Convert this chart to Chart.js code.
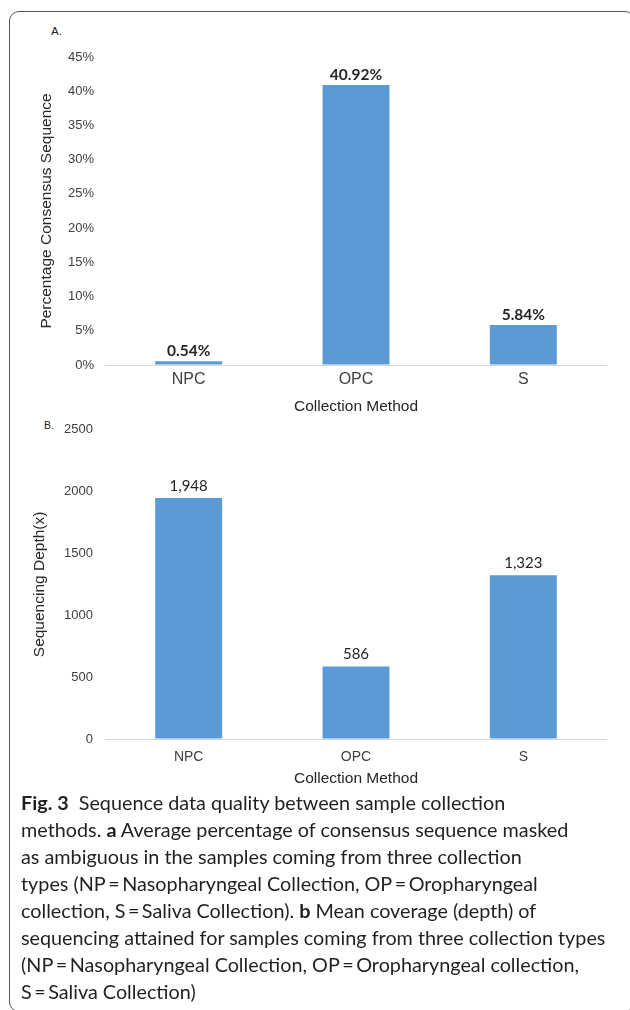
<!DOCTYPE html>
<html>
<head>
<meta charset="utf-8">
<script src="https://cdn.jsdelivr.net/npm/chart.js@4.4.1/dist/chart.umd.min.js"></script>
<style>
  html, body { margin: 0; padding: 0; background: #fff; width: 630px; height: 1010px; overflow: hidden; }
  body { position: relative; font-family: "Liberation Sans", Arial, sans-serif; }
  .frame { position: absolute; left: 9px; top: 11px; width: 626px; height: 1001px; border: 1.4px solid #555; border-radius: 10px; box-sizing: border-box; }
  .panel { position: absolute; left: 0; width: 630px; }
  #panelA { top: 0; height: 420px; }
  #panelB { top: 410px; height: 380px; }
  .tag { position: absolute; color: #222; font-family: "Liberation Sans", Arial, sans-serif; }
  #tagA { left: 51px; top: 25px; font-size: 11.5px; }
  #tagB { left: 44px; top: 419px; font-size: 10.5px; }
  .caption { position: absolute; left: 21px; top: 789px; font-family: Lato, "Open Sans", sans-serif; font-size: 19.8px; line-height: 27px; color: #231f20; white-space: nowrap; }
  .caption b { font-weight: 700; }
</style>
</head>
<body>
<div class="frame"></div>
<div class="tag" id="tagA">A.</div>
<div class="tag" id="tagB">B.</div>
<div class="panel" id="panelA"><canvas id="chartA" width="630" height="420"></canvas></div>
<div class="panel" id="panelB"><canvas id="chartB" width="630" height="380"></canvas></div>
<div class="caption">
  <div><b>Fig. 3</b>&nbsp; Sequence data quality between sample collection</div>
  <div>methods. <b>a</b> Average percentage of consensus sequence masked</div>
  <div>as ambiguous in the samples coming from three collection</div>
  <div>types (NP&thinsp;=&thinsp;Nasopharyngeal Collection, OP&thinsp;=&thinsp;Oropharyngeal</div>
  <div>collection, S&thinsp;=&thinsp;Saliva Collection). <b>b</b> Mean coverage (depth) of</div>
  <div>sequencing attained for samples coming from three collection types</div>
  <div>(NP&thinsp;=&thinsp;Nasopharyngeal Collection, OP&thinsp;=&thinsp;Oropharyngeal collection,</div>
  <div>S&thinsp;=&thinsp;Saliva Collection)</div>
</div>
<script>
// Collection methods shared by both panels
const methods = ['NPC', 'OPC', 'S'];

// Panel A: average percentage of consensus sequence masked as ambiguous
const maskedPercent = [0.54, 40.92, 5.84];
const percentTicks = [0, 5, 10, 15, 20, 25, 30, 35, 40, 45];

// Panel B: mean sequencing depth
const meanDepth = [1948, 586, 1323];
const depthTicks = [0, 500, 1000, 1500, 2000, 2500];

const BAR_BLUE = '#5B9BD5';
const TEXT_DARK = '#404040';
const AXIS_FONT = 'Liberation Sans';

// Writes each bar's value just above its top edge
function valueLabels(format, font, color, gap) {
  return {
    id: 'valueLabels',
    afterDatasetsDraw(chart) {
      const ctx = chart.ctx;
      const meta = chart.getDatasetMeta(0);
      const values = chart.data.datasets[0].data;
      ctx.save();
      ctx.font = font;
      ctx.fillStyle = color;
      ctx.textAlign = 'center';
      ctx.textBaseline = 'middle';
      meta.data.forEach((bar, i) => {
        ctx.fillText(format(values[i]), bar.x, bar.y - gap);
      });
      ctx.restore();
    }
  };
}

function baselineOnly(ctx) {
  return ctx.tick && ctx.tick.value === 0 ? '#d9d9d9' : 'rgba(0,0,0,0)';
}

function buildChart(canvasId, cfg) {
  return new Chart(document.getElementById(canvasId), {
    type: 'bar',
    data: {
      labels: methods,
      datasets: [{
        data: cfg.values,
        backgroundColor: BAR_BLUE,
        borderWidth: 0,
        barPercentage: 0.4,
        categoryPercentage: 1.0
      }]
    },
    options: {
      responsive: false,
      animation: false,
      devicePixelRatio: 1,
      layout: { padding: cfg.padding },
      plugins: { legend: { display: false }, tooltip: { enabled: false } },
      scales: {
        x: {
          grid: { display: false, drawTicks: false },
          border: { display: false },
          ticks: { color: TEXT_DARK, padding: cfg.xTickPad, font: { family: AXIS_FONT, size: cfg.xTickSize } },
          title: { display: true, text: 'Collection Method', color: '#262626', padding: { top: 0, bottom: 0 }, font: { family: AXIS_FONT, size: 15.5 } },
          afterFit: s => { s.height = cfg.xHeight; }
        },
        y: {
          min: 0,
          max: cfg.ticks[cfg.ticks.length - 1],
          afterBuildTicks: s => { s.ticks = cfg.ticks.map(v => ({ value: v })); },
          grid: { drawTicks: false, color: baselineOnly, lineWidth: 1 },
          border: { display: false },
          ticks: { color: TEXT_DARK, padding: cfg.yTickPad, font: { family: AXIS_FONT, size: 13 }, callback: cfg.tickFormat },
          title: { display: true, text: cfg.yTitle, color: '#262626', padding: { top: cfg.yTitlePad, bottom: 0 }, font: { family: AXIS_FONT, size: 15.5 } },
          afterFit: s => { s.width = 105; }
        }
      }
    },
    plugins: [valueLabels(cfg.labelFormat, cfg.labelFont, '#262626', cfg.labelGap)]
  });
}

buildChart('chartA', {
  values: maskedPercent,
  ticks: percentTicks,
  tickFormat: v => v + '%',
  labelFormat: v => v.toFixed(2) + '%',
  labelFont: 'bold 15.5px Lato, "Open Sans", sans-serif',
  labelGap: 10,
  yTitle: 'Percentage Consensus Sequence',
  yTitlePad: 37.7,
  yTickPad: 11,
  xTickSize: 16,
  xTickPad: 5,
  xHeight: 51.3,
  padding: { top: 57, right: 23, bottom: 3.7, left: 0 }
});

buildChart('chartB', {
  values: meanDepth,
  ticks: depthTicks,
  tickFormat: v => String(v),
  labelFormat: v => v.toLocaleString('en-US'),
  labelFont: '15px Lato, "Open Sans", sans-serif',
  labelGap: 12,
  yTitle: 'Sequencing Depth(x)',
  yTitlePad: 30.7,
  yTickPad: 12,
  xTickSize: 14,
  xTickPad: 9.6,
  xHeight: 49.3,
  padding: { top: 15, right: 23, bottom: 1.7, left: 0 }
});
</script>
</body>
</html>
